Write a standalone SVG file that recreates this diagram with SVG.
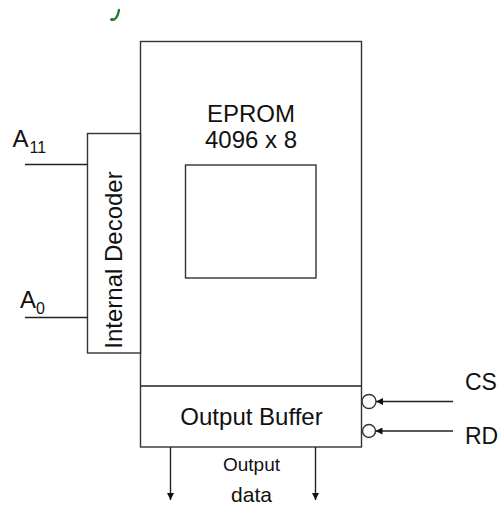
<svg xmlns="http://www.w3.org/2000/svg" width="499" height="506" viewBox="0 0 499 506">
<style>
.ln{stroke:#222;stroke-width:1.4;fill:none}
.box{stroke:#333;stroke-width:1.4;fill:#fff}
.t{font-family:"Liberation Sans",Arial,sans-serif;fill:#111}
</style>
<defs>
<marker id="ah" viewBox="0 0 10 10" refX="10" refY="5" markerWidth="8" markerHeight="7" markerUnits="userSpaceOnUse" orient="auto">
<path d="M0,0 L10,5 L0,10 Z" fill="#111"/>
</marker>
</defs>
<rect width="499" height="506" fill="#fff"/>
<path d="M111.5,19.5 Q117,21 119,10" stroke="#1f7a3a" stroke-width="2.4" fill="none" stroke-linecap="round"/>
<circle cx="112" cy="19.5" r="1.6" fill="#1f7a3a"/>
<g id="eprom">
<rect class="box" x="140.5" y="41.5" width="221" height="405.5"/>
<text class="t" x="251" y="122" font-size="24" text-anchor="middle">EPROM</text>
<text class="t" x="251" y="148" font-size="24" text-anchor="middle">4096 x 8</text>
<rect class="box" x="185.5" y="165" width="130.5" height="113"/>
</g>
<g id="decoder">
<rect class="box" x="87.5" y="133.5" width="53" height="219.5"/>
<text class="t" transform="translate(121.5,260) rotate(-90)" font-size="24" text-anchor="middle">Internal Decoder</text>
</g>
<g id="buffer">
<line class="ln" x1="140.5" y1="386" x2="361.5" y2="386"/>
<text class="t" x="251.5" y="425" font-size="24" text-anchor="middle">Output Buffer</text>
<circle class="box" cx="369" cy="401.5" r="7"/>
<circle class="box" cx="369" cy="431" r="6.5"/>
</g>
<g id="labels">
<text class="t" x="12.5" y="147" font-size="24">A</text>
<text class="t" x="29.5" y="153" font-size="16">11</text>
<text class="t" x="20" y="308" font-size="24">A</text>
<text class="t" x="36" y="313.5" font-size="16">0</text>
<text class="t" x="465" y="390" font-size="23">CS</text>
<text class="t" x="465" y="444" font-size="23">RD</text>
<text class="t" x="251.5" y="471" font-size="19" text-anchor="middle">Output</text>
<text class="t" x="251.5" y="502" font-size="21" text-anchor="middle">data</text>
</g>
<g id="connectors">
<line class="ln" x1="25" y1="164.5" x2="87.5" y2="164.5"/>
<line class="ln" x1="25" y1="317.5" x2="87.5" y2="317.5"/>
<line class="ln" x1="453" y1="401.5" x2="376" y2="401.5" marker-end="url(#ah)"/>
<line class="ln" x1="453" y1="431" x2="375.5" y2="431" marker-end="url(#ah)"/>
<line class="ln" x1="170.5" y1="447" x2="170.5" y2="500" marker-end="url(#ah)"/>
<line class="ln" x1="315.5" y1="447" x2="315.5" y2="500" marker-end="url(#ah)"/>
</g>
</svg>
